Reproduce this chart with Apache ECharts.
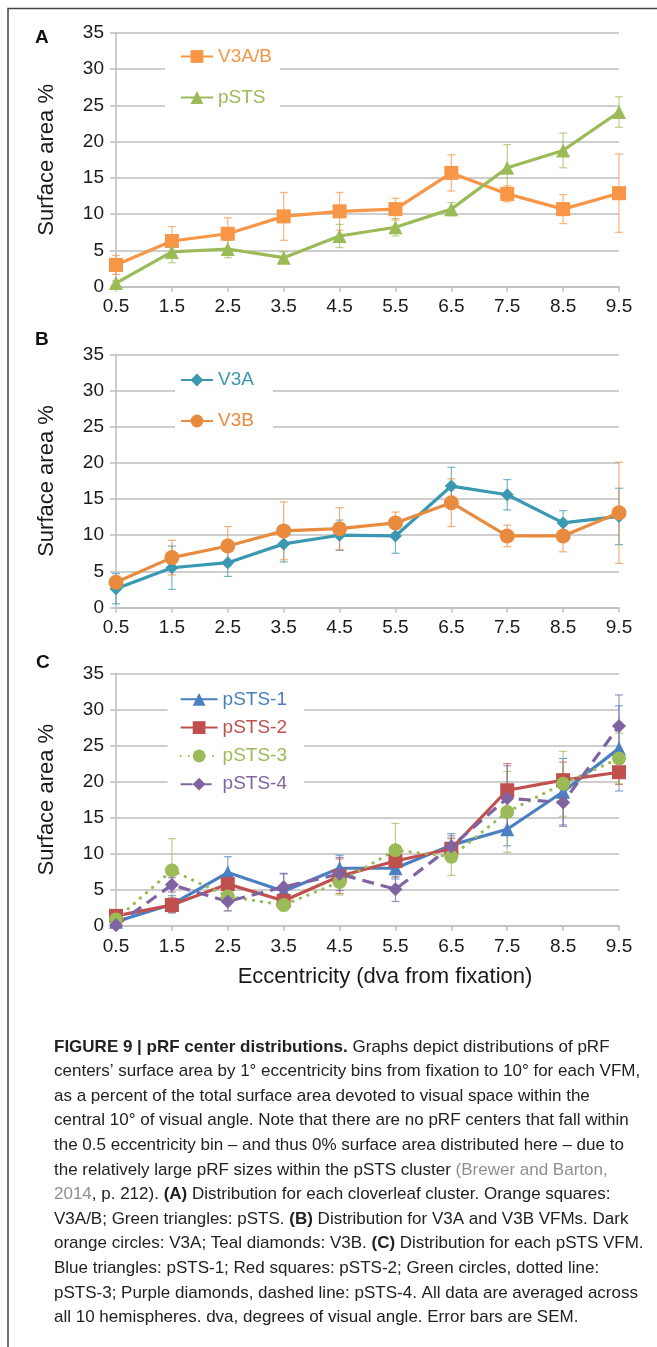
<!DOCTYPE html>
<html><head><meta charset="utf-8">
<script src="https://cdn.jsdelivr.net/npm/echarts@6/dist/echarts.min.js"></script>
<style>html,body{margin:0;padding:0;background:#fff}#c{width:657px;height:1347px}</style>
</head><body><div id="c"></div>
<script>
// ---- data ----
const categories = ['0.5','1.5','2.5','3.5','4.5','5.5','6.5','7.5','8.5','9.5'];

// Panel A
const v3ab    = [3.0, 6.3, 7.3, 9.7, 10.4, 10.7, 15.7, 12.8, 10.7, 12.9];
const v3abErr = [1.3, 2.0, 2.2, 3.3, 2.6, 1.5, 2.5, 1.1, 2.0, 5.4];
const psts    = [0.5, 4.8, 5.2, 4.0, 7.0, 8.2, 10.7, 16.4, 18.8, 24.1];
const pstsErr = [0.3, 1.5, 1.2, 0.8, 1.6, 1.2, 0.9, 3.2, 2.4, 2.1];

// Panel B
const v3a    = [2.6, 5.5, 6.2, 8.8, 10.0, 9.9, 16.8, 15.6, 11.7, 12.6];
const v3aErr = [2.1, 3.0, 1.9, 2.5, 2.1, 2.4, 2.6, 2.1, 1.7, 3.9];
const v3b    = [3.5, 6.9, 8.5, 10.6, 10.9, 11.7, 14.5, 9.9, 9.9, 13.1];
const v3bErr = [0.8, 2.4, 2.7, 4.0, 2.9, 1.5, 3.3, 1.5, 2.2, 7.0];

// Panel C
const psts1    = [0.6, 3.0, 7.4, 4.8, 8.0, 8.0, 11.2, 13.4, 18.6, 24.6];
const psts1Err = [0.4, 1.2, 2.2, 2.5, 1.8, 1.5, 1.6, 2.3, 4.6, 5.9];
const psts2    = [1.4, 2.9, 5.8, 3.5, 6.9, 9.0, 10.7, 18.8, 20.2, 21.3];
const psts2Err = [0.3, 1.0, 1.5, 1.2, 2.4, 1.7, 1.4, 3.7, 2.5, 1.7];
const psts3    = [0.9, 7.7, 4.1, 2.9, 6.1, 10.5, 9.6, 15.8, 19.7, 23.2];
const psts3Err = [0.3, 4.4, 2.0, 0.8, 1.8, 3.7, 2.6, 5.6, 4.5, 3.5];
const psts4    = [0.1, 5.7, 3.4, 5.4, 7.2, 5.1, 11.0, 17.7, 17.1, 27.7];
const psts4Err = [0.1, 1.0, 1.3, 1.8, 2.3, 1.7, 1.5, 4.5, 3.3, 4.3];

const yMin = 0, yMax = 35, yStep = 5;
const yTitle = 'Surface area %';
const xTitle = 'Eccentricity (dva from fixation)';

// ---- styling ----
const FONT = '"Liberation Sans", Arial, Helvetica, sans-serif';
const AX = '#BEBEBE';
const TXT = '#1a1a1a';
const C = {
  v3ab: '#F79646', psts: '#9BBB59',
  v3a: '#3A99B0', v3b: '#E98B3F',
  p1: '#4A7FC1', p2: '#C0504D', p3: '#9BBB59', p4: '#8064A2'
};

const grids = [
  {left: 116, right: 38, top: 33, height: 253.7},
  {left: 116, right: 38, top: 354.5, height: 253},
  {left: 116, right: 38, top: 673.3, height: 252.7}
];

const xAxes = grids.map((g, i) => ({
  type: 'category', gridIndex: i, data: categories, boundaryGap: false,
  axisLine: {lineStyle: {color: AX, width: 1.5}},
  axisTick: {show: true, length: 5, lineStyle: {color: AX, width: 1.5}},
  axisLabel: {color: TXT, fontSize: 19, fontFamily: FONT, margin: 11},
  splitLine: {show: false}
}));
const yAxes = grids.map((g, i) => ({
  type: 'value', gridIndex: i, min: yMin, max: yMax, interval: yStep,
  name: yTitle, nameLocation: 'middle', nameGap: 58, nameRotate: 90,
  nameTextStyle: {color: TXT, fontSize: 22, fontFamily: FONT},
  axisLine: {show: true, lineStyle: {color: AX, width: 1.5}},
  axisTick: {show: true, length: 6, lineStyle: {color: AX, width: 1.5}},
  axisLabel: {color: TXT, fontSize: 19, fontFamily: FONT, margin: 12},
  splitLine: {show: true, lineStyle: {color: AX, width: 1.5}}
}));

function lineSeries(name, data, color, symbol, size, gi, lineType, cap) {
  return {
    type: 'line', name, data, xAxisIndex: gi, yAxisIndex: gi,
    symbol, symbolSize: size, showAllSymbol: true,
    itemStyle: {color},
    lineStyle: {color, width: 3.2, type: lineType || 'solid', cap: cap || 'butt'},
    z: 3, animation: false
  };
}
function errSeries(vals, errs, color, gi) {
  const data = vals.map((v, i) => [i, v - errs[i], v + errs[i]]);
  return {
    type: 'custom', xAxisIndex: gi, yAxisIndex: gi, data, z: 2, silent: true,
    encode: {x: 0, y: [1, 2]},
    renderItem: function (params, api) {
      const x = api.value(0);
      const lo = api.coord([x, api.value(1)]);
      const hi = api.coord([x, api.value(2)]);
      const w = 4;
      const st = {stroke: color, lineWidth: 1.2, opacity: 0.7};
      return {type: 'group', children: [
        {type: 'line', shape: {x1: hi[0], y1: hi[1], x2: lo[0], y2: lo[1]}, style: st},
        {type: 'line', shape: {x1: hi[0] - w, y1: hi[1], x2: hi[0] + w, y2: hi[1]}, style: st},
        {type: 'line', shape: {x1: lo[0] - w, y1: lo[1], x2: lo[0] + w, y2: lo[1]}, style: st}
      ]};
    },
    animation: false
  };
}

const series = [
  errSeries(v3ab, v3abErr, C.v3ab, 0),
  errSeries(psts, pstsErr, C.psts, 0),
  lineSeries('V3A/B', v3ab, C.v3ab, 'rect', 14, 0),
  lineSeries('pSTS', psts, C.psts, 'triangle', 14, 0),

  errSeries(v3a, v3aErr, C.v3a, 1),
  errSeries(v3b, v3bErr, C.v3b, 1),
  lineSeries('V3A', v3a, C.v3a, 'diamond', 13, 1),
  lineSeries('V3B', v3b, C.v3b, 'circle', 15, 1),

  errSeries(psts1, psts1Err, C.p1, 2),
  errSeries(psts2, psts2Err, C.p2, 2),
  errSeries(psts3, psts3Err, C.p3, 2),
  errSeries(psts4, psts4Err, C.p4, 2),
  lineSeries('pSTS-1', psts1, C.p1, 'triangle', 14, 2),
  lineSeries('pSTS-2', psts2, C.p2, 'rect', 14, 2),
  lineSeries('pSTS-3', psts3, C.p3, 'circle', 14, 2, [0.1, 8], 'round'),
  lineSeries('pSTS-4', psts4, C.p4, 'diamond', 14, 2, [12, 7])
];

function legend(names, colors, left, top, gap, itemWidth, padding) {
  return {
    left, top, orient: 'vertical', itemGap: gap, itemWidth, itemHeight: 16,
    padding, backgroundColor: '#fff', selectedMode: false,
    textStyle: {fontSize: 19, fontFamily: FONT, lineHeight: 19},
    data: names.map((n, i) => ({name: n, textStyle: {color: colors[i]}}))
  };
}

const legends = [
  legend(['V3A/B', 'pSTS'], [C.v3ab, C.psts], 165, 39, 22, 32, [8, 8, 8, 15]),
  legend(['V3A', 'V3B'], [C.v3a, C.v3b], 175, 362.5, 22, 32, [8, 19, 8, 5]),
  legend(['pSTS-1', 'pSTS-2', 'pSTS-3', 'pSTS-4'], [C.p1, C.p2, C.p3, C.p4], 167.6, 681.8, 9.3, 37, [8, 17, 8, 12])
];

// caption lines
const GRAY = '#8f8f8f';
const captionLines = [
  '{b|FIGURE 9 | pRF center distributions.} Graphs depict distributions of pRF',
  'centers\u2019 surface area by 1\u00b0 eccentricity bins from fixation to 10\u00b0 for each VFM,',
  'as a percent of the total surface area devoted to visual space within the',
  'central 10\u00b0 of visual angle. Note that there are no pRF centers that fall within',
  'the 0.5 eccentricity bin \u2013 and thus 0% surface area distributed here \u2013 due to',
  'the relatively large pRF sizes within the pSTS cluster {g|(Brewer and Barton,}',
  '{g|2014}, p. 212). {b|(A)} Distribution for each cloverleaf cluster. Orange squares:',
  'V3A/B; Green triangles: pSTS. {b|(B)} Distribution for V3A and V3B VFMs. Dark',
  'orange circles: V3A; Teal diamonds: V3B. {b|(C)} Distribution for each pSTS VFM.',
  'Blue triangles: pSTS-1; Red squares: pSTS-2; Green circles, dotted line:',
  'pSTS-3; Purple diamonds, dashed line: pSTS-4. All data are averaged across',
  'all 10 hemispheres. dva, degrees of visual angle. Error bars are SEM.'
];
const CAP_FS = 17;
const rich = {
  b: {fontWeight: 'bold', fontSize: CAP_FS, fontFamily: FONT, fill: '#222'},
  g: {fontSize: CAP_FS, fontFamily: FONT, fill: GRAY}
};

const graphic = [
  {type: 'polyline', shape: {points: [[8, 1347], [8, 8.5], [657, 8.5]]}, style: {stroke: '#444', lineWidth: 1.5, fill: null}},
  {type: 'text', x: 35, y: 38, style: {text: 'A', font: 'bold 19px ' + FONT, fill: '#111', verticalAlign: 'middle'}},
  {type: 'text', x: 35, y: 340, style: {text: 'B', font: 'bold 19px ' + FONT, fill: '#111', verticalAlign: 'middle'}},
  {type: 'text', x: 36, y: 663, style: {text: 'C', font: 'bold 19px ' + FONT, fill: '#111', verticalAlign: 'middle'}},
  {type: 'text', x: 385, y: 977, style: {text: xTitle, font: '22px ' + FONT, fill: TXT, align: 'center', verticalAlign: 'middle'}}
].concat(captionLines.map((t, i) => ({
  type: 'text', x: 54, y: 1047 + i * 24.6,
  style: {text: t, fontSize: CAP_FS, fontFamily: FONT, fill: '#222', verticalAlign: 'middle', rich}
})));

const chart = echarts.init(document.getElementById('c'), null, {renderer: 'canvas'});
chart.setOption({
  animation: false,
  backgroundColor: '#fff',
  grid: grids,
  xAxis: xAxes,
  yAxis: yAxes,
  legend: legends,
  series,
  graphic
});
</script></body></html>
